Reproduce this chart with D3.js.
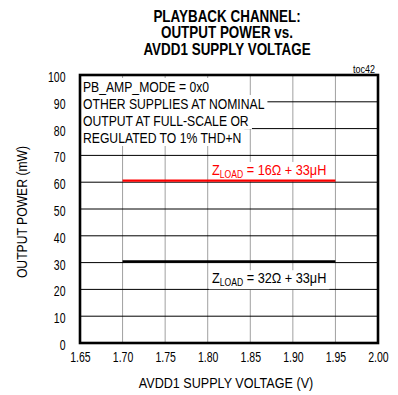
<!DOCTYPE html>
<html><head><meta charset="utf-8">
<script src="https://cdn.jsdelivr.net/npm/d3@7"></script>
<style>
body{margin:0;background:#fff;}
svg text{font-family:"Liberation Sans",Arial,sans-serif;}
</style></head><body>
<svg id="c" width="398" height="395"></svg>
<script>
const titleLines = ["PLAYBACK CHANNEL:", "OUTPUT POWER vs.", "AVDD1 SUPPLY VOLTAGE"];
const xTicks = [1.65, 1.70, 1.75, 1.80, 1.85, 1.90, 1.95, 2.00];
const yTicks = [0, 10, 20, 30, 40, 50, 60, 70, 80, 90, 100];
const noteLines = ["PB_AMP_MODE = 0x0", "OTHER SUPPLIES AT NOMINAL", "OUTPUT AT FULL-SCALE OR", "REGULATED TO 1% THD+N"];
const seriesNames = ["16Ω + 33μH", "32Ω + 33μH"];
const seriesColors = ["#ff0000", "#000000"];
const voltage16 = [1.70, 1.75, 1.80, 1.85, 1.90, 1.95];
const power16 = [60.6, 60.6, 60.6, 60.6, 60.6, 60.6];
const voltage32 = [1.70, 1.75, 1.80, 1.85, 1.90, 1.95];
const power32 = [30.4, 30.4, 30.4, 30.4, 30.4, 30.4];
const labelPos = [[1.805, 62.7], [1.805, 22.3]];

const svg = d3.select("#c");
const L = 80, R = 378, T = 75, B = 343;
const x = d3.scaleLinear().domain([1.65, 2.00]).range([L, R]);
const y = d3.scaleLinear().domain([0, 100]).range([B, T]);
const SX = 0.84;

function place(t, px, py, sx) {
  return t.attr("transform", `translate(${px},${py}) scale(${sx},1)`);
}

// title
titleLines.forEach((d, i) => {
  place(svg.append("text"), 227, 21.7 + i * 16.6, SX)
    .attr("text-anchor", "middle").attr("font-weight", "bold").attr("font-size", 16)
    .text(d);
});

// grid
svg.append("g").selectAll("line").data(xTicks.slice(1, -1)).join("line")
  .attr("x1", d => x(d)).attr("x2", d => x(d)).attr("y1", T).attr("y2", B)
  .attr("stroke", "#a0a0a0").attr("stroke-width", 1);
svg.append("g").selectAll("line").data(yTicks.slice(1, -1)).join("line")
  .attr("x1", L).attr("x2", R).attr("y1", d => y(d)).attr("y2", d => y(d))
  .attr("stroke", "#000").attr("stroke-width", 1);

// axes labels via d3 axes
const xAxis = svg.append("g").attr("transform", `translate(0,${B})`)
  .call(d3.axisBottom(x).tickValues(xTicks).tickFormat(d3.format(".2f")).tickSize(0).tickPadding(0));
const yAxis = svg.append("g").attr("transform", `translate(${L},0)`)
  .call(d3.axisLeft(y).tickValues(yTicks).tickSize(0).tickPadding(0));
[xAxis, yAxis].forEach(a => {
  a.select(".domain").remove();
  a.selectAll("text").attr("font-size", 14).attr("fill", "#000")
    .style("font-family", '"Liberation Sans",Arial,sans-serif')
    .attr("x", 0).attr("y", 0).attr("dy", "0.35em");
});
xAxis.selectAll("text").attr("transform", "translate(0,14.5) scale(0.75,1)");
yAxis.selectAll("text").attr("transform", "translate(-14.5,1.5) scale(0.75,1)");

// note box
const note = svg.append("g");
noteLines.forEach((t, i) => {
  const tx = place(note.append("text"), 83, 91.5 + i * 17, SX)
    .attr("font-size", 14.5).text(t);
  const bb = tx.node().getBBox();
  note.insert("rect", "text").attr("x", L + 1).attr("y", 78 + i * 17)
    .attr("width", 83 + (bb.x + bb.width) * SX - L + 2).attr("height", 17).attr("fill", "#fff");
});

// series labels (with white backing)
const labG = svg.append("g");
seriesNames.forEach((n, i) => {
  const px = x(labelPos[i][0]), py = y(labelPos[i][1]);
  const t = place(labG.append("text"), px, py, 0.82)
    .attr("fill", seriesColors[i]).attr("font-size", 15.5);
  t.append("tspan").text("Z");
  t.append("tspan").attr("font-size", 10.5).attr("dy", 3).text("LOAD");
  t.append("tspan").attr("dy", -3).text(" = " + n);
  const bb = t.node().getBBox();
  labG.insert("rect", "text").attr("x", px - 3).attr("y", py - 13)
    .attr("width", bb.width * 0.82 + 6).attr("height", 19).attr("fill", "#fff");
});

// series lines
const line = d3.line().x(d => x(d[0])).y(d => y(d[1]));
const series = [d3.zip(voltage16, power16), d3.zip(voltage32, power32)];
svg.append("g").selectAll("path").data(series).join("path")
  .attr("d", line).attr("fill", "none")
  .attr("stroke", (d, i) => seriesColors[i]).attr("stroke-width", (d, i) => i ? 2.6 : 2.2);

// border
svg.append("rect").attr("x", L).attr("y", T).attr("width", R - L).attr("height", B - T)
  .attr("fill", "none").attr("stroke", "#000").attr("stroke-width", 2.6);

place(svg.append("text"), 375, 72.5, 0.9).attr("text-anchor", "end")
  .attr("font-size", 10).text("toc42");

// axis titles
place(svg.append("text"), 226, 388, 0.84).attr("text-anchor", "middle")
  .attr("font-size", 15).text("AVDD1 SUPPLY VOLTAGE (V)");
svg.append("text").attr("transform", "translate(27,212) rotate(-90) scale(0.84,1)").attr("text-anchor", "middle")
  .attr("font-size", 14.5).text("OUTPUT POWER (mW)");
</script></body></html>
